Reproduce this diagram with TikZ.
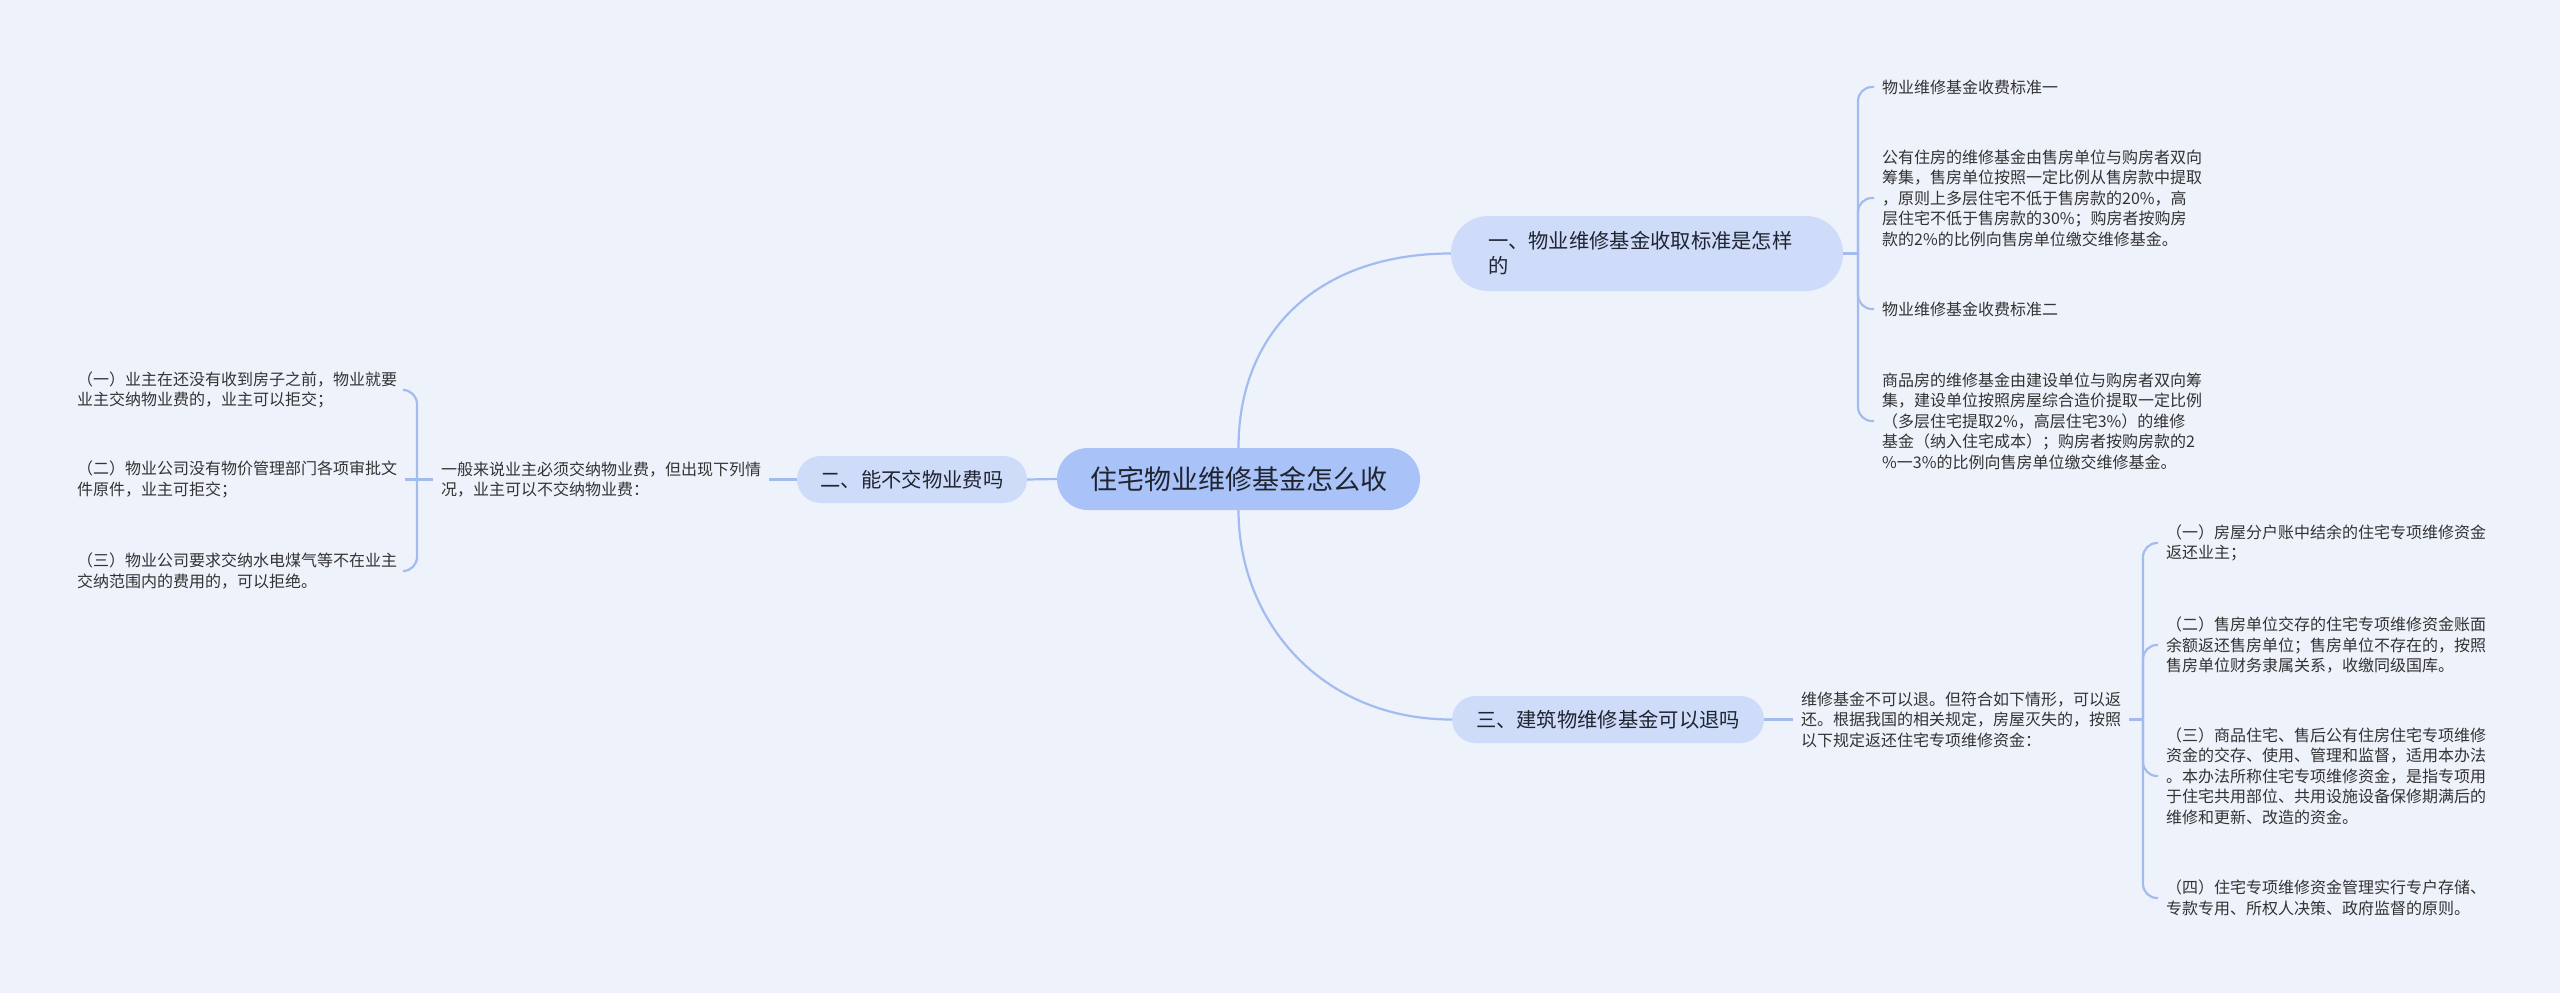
\documentclass[tikz,border=0pt]{standalone}
\usepackage{fontspec}
\setmainfont{Noto Sans CJK SC}
\definecolor{bgc}{HTML}{EEF2FB}
\definecolor{rootc}{HTML}{A9C2F8}
\definecolor{lvlc}{HTML}{CEDCFA}
\definecolor{linec}{HTML}{A3BCF0}
\definecolor{txtc}{HTML}{1F2430}
\definecolor{leafc}{HTML}{333333}
\begin{document}
\begin{tikzpicture}[x=1pt,y=-1pt,
  conn/.style={draw=linec, line width=2.2pt},
  rootbox/.style={fill=rootc, rounded corners=31pt, minimum width=363pt, minimum height=62pt, font=\fontsize{27pt}{32pt}\selectfont, text=txtc, inner sep=0pt},
  lvlbox/.style={fill=lvlc, rounded corners=23.5pt, minimum height=47pt, font=\fontsize{20.3pt}{25pt}\selectfont, text=txtc, inner sep=0pt},
  leaf/.style={font=\fontsize{16pt}{20.5pt}\selectfont, text=leafc, align=left, inner xsep=8pt, inner ysep=2pt, anchor=west},
]
\useasboundingbox (0,0) rectangle (2560,993);
\fill[bgc] (0,0) rectangle (2560,993);

% main nodes
\node[rootbox] (root) at (1238.5,479) {住宅物业维修基金怎么收};
\node[lvlbox, minimum width=392pt, minimum height=75pt, rounded corners=37pt, text width=318pt, align=left] (n1) at (1647,253.5) {一、物业维修基金收取标准是怎样\\的};
\node[lvlbox, minimum width=230pt] (n2) at (912,479.5) {二、能不交物业费吗};
\node[lvlbox, minimum width=312pt] (n3) at (1608,719.5) {三、建筑物维修基金可以退吗};

% left branch
\node[leaf] (t2) at (433,479.5) {一般来说业主必须交纳物业费，但出现下列情\\况，业主可以不交纳物业费：};
\node[leaf] (l1) at (69,390) {（一）业主在还没有收到房子之前，物业就要\\业主交纳物业费的，业主可以拒交；};
\node[leaf] (l2) at (69,479.5) {（二）物业公司没有物价管理部门各项审批文\\件原件，业主可拒交；};
\node[leaf] (l3) at (69,571) {（三）物业公司要求交纳水电煤气等不在业主\\交纳范围内的费用的，可以拒绝。};

% right upper branch
\node[leaf] (r1) at (1874,87) {物业维修基金收费标准一};
\node[leaf] (r2) at (1874,198) {公有住房的维修基金由售房单位与购房者双向\\筹集，售房单位按照一定比例从售房款中提取\\，原则上多层住宅不低于售房款的20\%，高\\层住宅不低于售房款的30\%；购房者按购房\\款的2\%的比例向售房单位缴交维修基金。};
\node[leaf] (r3) at (1874,309) {物业维修基金收费标准二};
\node[leaf] (r4) at (1874,421) {商品房的维修基金由建设单位与购房者双向筹\\集，建设单位按照房屋综合造价提取一定比例\\（多层住宅提取2\%，高层住宅3\%）的维修\\基金（纳入住宅成本）；购房者按购房款的2\\\%一3\%的比例向售房单位缴交维修基金。};

% right lower branch
\node[leaf] (t3) at (1793,719.5) {维修基金不可以退。但符合如下情形，可以返\\还。根据我国的相关规定，房屋灭失的，按照\\以下规定返还住宅专项维修资金：};
\node[leaf] (b1) at (2158,543) {（一）房屋分户账中结余的住宅专项维修资金\\返还业主；};
\node[leaf] (b2) at (2158,645) {（二）售房单位交存的住宅专项维修资金账面\\余额返还售房单位；售房单位不存在的，按照\\售房单位财务隶属关系，收缴同级国库。};
\node[leaf] (b3) at (2158,776) {（三）商品住宅、售后公有住房住宅专项维修\\资金的交存、使用、管理和监督，适用本办法\\。本办法所称住宅专项维修资金，是指专项用\\于住宅共用部位、共用设施设备保修期满后的\\维修和更新、改造的资金。};
\node[leaf] (b4) at (2158,898) {（四）住宅专项维修资金管理实行专户存储、\\专款专用、所权人决策、政府监督的原则。};

% junctions
\coordinate (jL) at (417,479.5);
\coordinate (jR) at (1858,253.5);
\coordinate (jB) at (2143,719.5);

% connectors
\begin{scope}[on background layer/.try]
\end{scope}
\draw[conn] (root.north) .. controls (1238.5,330) and (1320,253.5) .. (n1.west);
\draw[conn] (root.south) .. controls (1238.5,620) and (1320,719.5) .. (n3.west);
\draw[conn] (root.west) -- (n2.east);
\draw[conn] (n2.west) -- (t2.east);
\draw[conn] (t2.west) -- (jL);
\draw[conn, rounded corners=14pt] (jL) |- (l1.east);
\draw[conn] (jL) -- (l2.east);
\draw[conn, rounded corners=14pt] (jL) |- (l3.east);

\draw[conn] (n1.east) -- (jR);
\draw[conn, rounded corners=14pt] (jR) |- (r1.west);
\draw[conn, rounded corners=14pt] (jR) |- (r2.west);
\draw[conn, rounded corners=14pt] (jR) |- (r3.west);
\draw[conn, rounded corners=14pt] (jR) |- (r4.west);

\draw[conn] (n3.east) -- (t3.west);
\draw[conn] (t3.east) -- (jB);
\draw[conn, rounded corners=14pt] (jB) |- (b1.west);
\draw[conn, rounded corners=14pt] (jB) |- (b2.west);
\draw[conn, rounded corners=14pt] (jB) |- (b3.west);
\draw[conn, rounded corners=14pt] (jB) |- (b4.west);
\end{tikzpicture}
\end{document}
